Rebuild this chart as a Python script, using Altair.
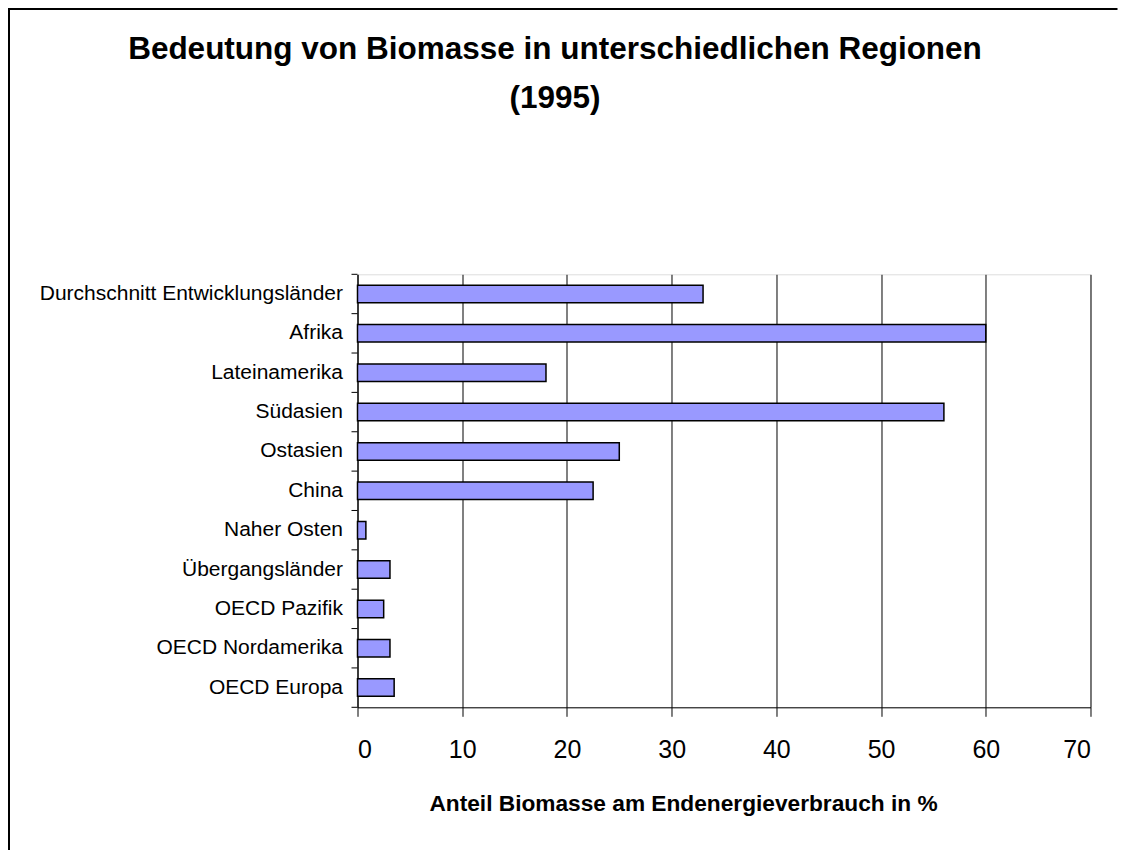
import altair as alt
import pandas as pd

regions = [
    "Durchschnitt Entwicklungsländer",
    "Afrika",
    "Lateinamerika",
    "Südasien",
    "Ostasien",
    "China",
    "Naher Osten",
    "Übergangsländer",
    "OECD Pazifik",
    "OECD Nordamerika",
    "OECD Europa",
]
shares = [33.0, 60.0, 18.0, 56.0, 25.0, 22.5, 0.8, 3.1, 2.5, 3.1, 3.5]
x_ticks = [0, 10, 20, 30, 40, 50, 60, 70]
title_lines = ["Bedeutung von Biomasse in unterschiedlichen Regionen", "(1995)"]

df = pd.DataFrame({"region": regions, "share": shares})
one = pd.DataFrame({"a": [0]})

FONT = "Liberation Sans"
W, H = 733, 433

yscale = alt.Scale(paddingInner=0, paddingOuter=0)
yaxis = alt.Axis(
    title=None,
    labelFont=FONT,
    labelFontSize=21,
    labelColor="black",
    labelPadding=15,
    labelLimit=500,
    ticks=False,
    tickSize=0,
    domainColor="black",
    grid=False,
)

bars = alt.Chart(df).mark_bar(
    height={"band": 0.445}, color="#9999FF", stroke="black", strokeWidth=1.5
).encode(
    x=alt.X(
        "share:Q",
        scale=alt.Scale(domain=[0, 70], nice=False, zero=True),
        axis=alt.Axis(
            values=x_ticks,
            title="Anteil Biomasse am Endenergieverbrauch in %",
            titleFont=FONT,
            titleFontSize=22.7,
            titleFontWeight="bold",
            titleColor="black",
            titleX=325.5,
            titleY=96,
            titleAlign="center",
            titleBaseline="middle",
            labelFont=FONT,
            labelFontSize=25,
            labelColor="black",
            labelPadding=21,
            tickSize=9,
            tickColor="black",
            domainColor="black",
            grid=True,
            gridColor="black",
            gridWidth=1,
        ),
    ),
    y=alt.Y("region:N", sort=regions, scale=yscale, axis=yaxis),
)

ticks = alt.Chart(df).mark_rule(color="black", strokeWidth=1).encode(
    y=alt.Y("region:N", sort=regions, scale=yscale, bandPosition=0, axis=yaxis),
    x=alt.value(-6),
    x2=alt.value(0),
)

bottom_tick = alt.Chart(one).mark_rule(color="black", strokeWidth=1).encode(
    y=alt.value(H), x=alt.value(-6), x2=alt.value(0)
)

border_left = alt.Chart(one).mark_rule(color="black", strokeWidth=2).encode(
    x=alt.value(-348.5), y=alt.value(-266.3), y2=alt.value(H + 143)
)
border_top = alt.Chart(one).mark_rule(color="black", strokeWidth=2).encode(
    x=alt.value(-349.5), x2=alt.value(W + 27), y=alt.value(-265.3)
)

title1 = alt.Chart(pd.DataFrame({"t": [title_lines[0]]})).mark_text(
    font=FONT, fontSize=31.5, fontWeight="bold", color="black",
    align="center", baseline="alphabetic",
).encode(text="t:N", x=alt.value(197.5), y=alt.value(-215.3))

title2 = alt.Chart(pd.DataFrame({"t": [title_lines[1]]})).mark_text(
    font=FONT, fontSize=31.5, fontWeight="bold", color="black",
    align="center", baseline="alphabetic",
).encode(text="t:N", x=alt.value(197.5), y=alt.value(-166.3))

chart = alt.layer(
    bars, ticks, bottom_tick, border_left, border_top, title1, title2
).properties(
    width=W,
    height=H,
    autosize=alt.AutoSizeParams(type="none"),
    padding={"left": 349.5, "top": 266.3, "right": 27, "bottom": 143},
).configure_view(stroke="black", strokeWidth=1).configure(background="white")

chart.save("out.html", embed_options={"renderer": "svg", "actions": False})
